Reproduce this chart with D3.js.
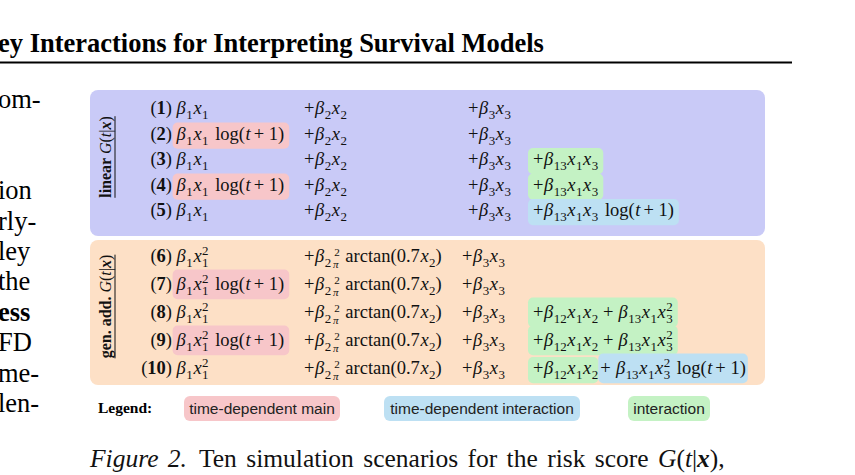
<!DOCTYPE html>
<html><head><meta charset="utf-8">
<script src="https://cdn.jsdelivr.net/npm/d3@7"></script>
<style>body{margin:0;background:#fff}svg{display:block}</style>
</head><body><svg id="c" width="855" height="475"></svg>
<script>
const scenarios = ["1","2","3","4","5","6","7","8","9","10"];
const mainTerms = ["β_1x_1","β_1x_1 log(t+1)","β_1x_1","β_1x_1 log(t+1)","β_1x_1",
  "β_1x_1^2","β_1x_1^2 log(t+1)","β_1x_1^2","β_1x_1^2 log(t+1)","β_1x_1^2"];
const secondTerms = ["+β_2x_2","+β_2x_2","+β_2x_2","+β_2x_2","+β_2x_2",
  "+β_2F arctan(0.7x_2)","+β_2F arctan(0.7x_2)","+β_2F arctan(0.7x_2)","+β_2F arctan(0.7x_2)","+β_2F arctan(0.7x_2)"];
const thirdTerms = Array(10).fill("+β_3x_3");
const interTerms = ["","","+β_13x_1x_3","+β_13x_1x_3","+β_13x_1x_3 log(t+1)",
  "","","+β_12x_1x_2 + β_13x_1x_3^2","+β_12x_1x_2 + β_13x_1x_3^2","+β_12x_1x_2"];
const extraTerms = ["","","","","","","","","","+ β_13x_1x_3^2 log(t+1)"];
const mainKind = ["","tdm","","tdm","","","tdm","","tdm",""];
const interKind = ["","","int","int","tdi","","","int","int","int"];
const extraKind = ["","","","","","","","","","tdi"];
const groups = ["linear","gen. add."];
const legendLabels = ["time-dependent main","time-dependent interaction","interaction"];
const legendKinds = ["tdm","tdi","int"];
const leftText = ["om-","","","ion","rly-","ley","the","ess","FD","me-","len-"];

const colors = {tdm:"#f7c6c9", tdi:"#bde0f3", int:"#c4f2c4"};
const svg = d3.select("#c");
const SERIF = "'Liberation Serif','DejaVu Serif',serif";
svg.style("font-family", SERIF);
const MS = 18.5;

function render(g, str, x, y, size) {
  const t = g.append("text").attr("x", x).attr("y", y).attr("font-size", size).attr("fill","#111");
  let i = 0, lastSubW = 0, lastWasSub = false;
  const add = (txt, opts={}) => {
    const s = t.append("tspan").text(txt);
    if (opts.it) s.attr("font-style","italic");
    if (opts.fs) s.attr("font-size", opts.fs);
    if (opts.dy) s.attr("dy", opts.dy);
    if (opts.dx) s.attr("dx", opts.dx);
    if (opts.ls !== undefined) s.attr("letter-spacing", opts.ls);
    return s;
  };
  while (i < str.length) {
    const r = str.slice(i);
    if (r.startsWith("log")) { add("log", {dx: 2}); i += 3; lastWasSub=false; continue; }
    if (r.startsWith("arctan")) { add("arctan", {dx: 2}); i += 6; lastWasSub=false; continue; }
    const c = str[i];
    if (c === "_" || c === "^") {
      let j = i + 1; while (j < str.length && /[0-9]/.test(str[j])) j++;
      const d = c === "_" ? size*0.28 : -size*0.40;
      const txt = str.slice(i+1, j);
      const dx = (c === "^" && lastWasSub) ? -lastSubW : 0.5;
      const sp = add(txt, {fs: size*0.7, dy: d, dx: dx, ls: 0});
      const w = sp.node().getComputedTextLength();
      add("\u200b", {dy: -d});
      if (c === "_") { lastSubW = w; lastWasSub = true; } else lastWasSub = false;
      i = j; continue;
    }
    lastWasSub = false;
    if (c === "F") {
      add("2", {fs: size*0.6, dy: -size*0.32, dx: 3});
      add("π", {fs: size*0.6, dy: size*0.62, dx: -size*0.36, it:true});
      add("\u200b", {dy: -size*0.30});
      i++; continue;
    }
    if (/[a-zβπ]/.test(c)) { add(c, {it:true, dx: 0.6}); i++; continue; }
    if (c === "+") {
      const inner = i > 0 && str[i-1] !== " ";
      add("+", {dx: inner ? 3 : 0}); if (inner || (i+1<str.length && str[i+1]!==" " && i>0)) add(" ", {}); 
      i++; continue;
    }
    add(c); i++;
  }
  return t;
}

// Header
svg.append("text").attr("x", -2).attr("y", 52).attr("font-size", 26.5).attr("font-weight","bold")
  .text("ey Interactions for Interpreting Survival Models");
svg.append("line").attr("x1",0).attr("x2",792).attr("y1",62.5).attr("y2",62.5).attr("stroke","#000").attr("stroke-width",1.8);

const yLeft = d3.scalePoint().domain(d3.range(leftText.length)).range([108, 412]);
leftText.forEach((s,k) => {
  svg.append("text").attr("x",-2).attr("y", yLeft(k)).attr("font-size",26.5)
    .attr("font-weight", s==="ess" ? "bold":"normal").text(s);
});

const boxes = [{y0:90,y1:236,fill:"#c9caf7"},{y0:240,y1:385,fill:"#fde0c6"}];
boxes.forEach(b => svg.append("rect").attr("x",90).attr("y",b.y0).attr("width",675).attr("height",b.y1-b.y0).attr("rx",8).attr("fill",b.fill));

const yTop = d3.scalePoint().domain(scenarios.slice(0,5)).range([108,210]);
const yBot = d3.scalePoint().domain(scenarios.slice(5)).range([256,368]);
const yOf = s => (+s <= 5 ? yTop(s) : yBot(s));

groups.forEach((gname, k) => {
  const b = boxes[k];
  const cy = (b.y0 + b.y1)/2 - 6;
  const g = svg.append("g").attr("transform", `translate(111,${cy}) rotate(-90)`);
  const t = g.append("text").attr("text-anchor","middle").attr("font-size",16).attr("fill","#111");
  t.append("tspan").attr("font-weight","bold").text(gname + " ");
  t.append("tspan").attr("font-style","italic").text("G");
  t.append("tspan").text("(");
  t.append("tspan").attr("font-style","italic").text("t");
  t.append("tspan").text("|");
  t.append("tspan").attr("font-weight","bold").attr("font-style","italic").text("x");
  t.append("tspan").text(")");
  const w = t.node().getComputedTextLength();
  g.append("line").attr("x1",-w/2).attr("x2",w/2).attr("y1",4).attr("y2",4).attr("stroke","#111").attr("stroke-width",1);
});

const hl = svg.append("g"), tx = svg.append("g");
function placeHL(t, kind, padL, padR) {
  if (!kind) return;
  const bb = t.node().getBBox();
  hl.append("rect").attr("x", bb.x - padL).attr("y", bb.y - 1).attr("width", bb.width + padL + padR)
    .attr("height", bb.height + 2).attr("rx", 5).attr("fill", colors[kind]);
}
scenarios.forEach((s, i) => {
  const y = yOf(s) + 6;
  const bottom = +s > 5;
  const n = tx.append("text").attr("x",172).attr("y",y).attr("font-size",MS).attr("text-anchor","end").attr("fill","#111");
  n.append("tspan").text("(");
  n.append("tspan").attr("font-weight","bold").text(s);
  n.append("tspan").text(")");
  const t1 = render(tx, mainTerms[i], 176, y, MS);
  placeHL(t1, mainKind[i], 3, 5);
  render(tx, secondTerms[i], 304, y, MS);
  render(tx, thirdTerms[i], bottom ? 462 : 468, y, MS);
  if (interTerms[i]) {
    const t4 = render(tx, interTerms[i], 533, y, MS);
    placeHL(t4, interKind[i], 5, extraTerms[i] ? 0 : 5);
    if (extraTerms[i]) {
      const bb = t4.node().getBBox();
      const t5 = render(tx, extraTerms[i], bb.x + bb.width + 2, y, MS);
      placeHL(t5, extraKind[i], 2, 2);
    }
  }
});

svg.append("text").attr("x",98).attr("y",413).attr("font-size",15.5).attr("font-weight","bold").text("Legend:");
const legX = [184, 384, 628], legW = [156, 196, 82];
legendLabels.forEach((lab, k) => {
  svg.append("rect").attr("x", legX[k]).attr("y", 396).attr("width", legW[k]).attr("height", 25).attr("rx",6).attr("fill", colors[legendKinds[k]]);
  svg.append("text").attr("x", legX[k] + legW[k]/2).attr("y", 414).attr("text-anchor","middle")
    .attr("font-size",15.5).attr("font-family","'Liberation Sans Narrow','Liberation Sans',sans-serif").attr("fill","#222").text(lab);
});

const cap = svg.append("text").attr("x",90).attr("y",467).attr("font-size",25.5).attr("fill","#111").attr("word-spacing",3);
cap.append("tspan").attr("font-style","italic").text("Figure 2.");
cap.append("tspan").attr("dx",12).text("Ten simulation scenarios for the risk score ");
cap.append("tspan").attr("font-style","italic").text("G");
cap.append("tspan").text("(");
cap.append("tspan").attr("font-style","italic").text("t");
cap.append("tspan").text("|");
cap.append("tspan").attr("font-style","italic").attr("font-weight","bold").text("x");
cap.append("tspan").text("),");
</script></body></html>
